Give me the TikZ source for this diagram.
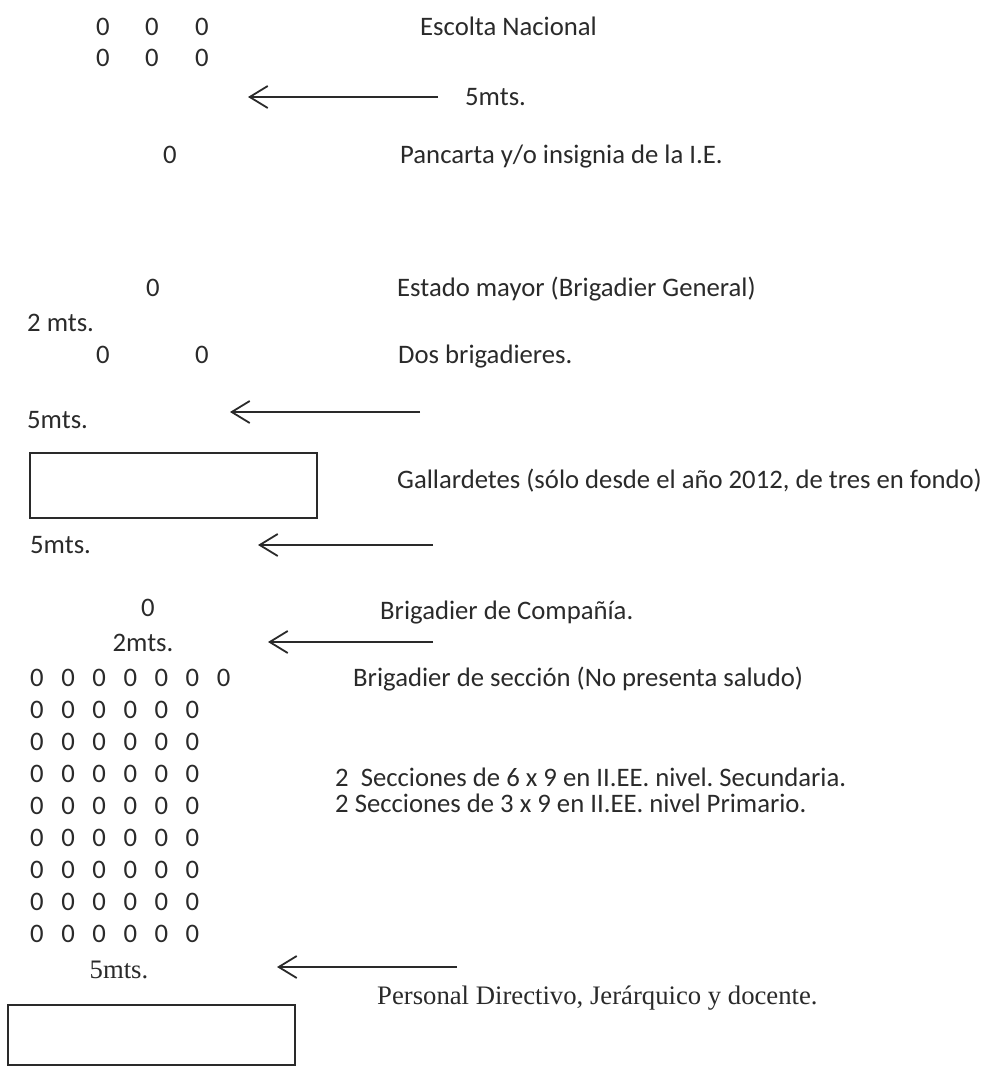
\documentclass[tikz,border=0pt]{standalone}
\usepackage{fontspec}
\setmainfont{Carlito}
\newfontfamily\tnr{Liberation Serif}
\usetikzlibrary{arrows.meta}
\definecolor{ink}{HTML}{2A2A2A}
\frenchspacing
\tikzset{
  lbl/.style={anchor=base west, inner sep=0pt, text=ink, font=\fontsize{26.7}{31}\selectfont},
  zero/.style={anchor=base, inner sep=0pt, text=ink, font=\fontsize{26.7}{31}\selectfont},
  tlbl/.style={anchor=base west, inner sep=0pt, text=ink, font=\tnr\fontsize{26.7}{31}\selectfont},
  arr/.style={draw=ink, line width=1.8pt, -{Straight Barb[length=18pt, width=22pt, line width=1.8pt]}},
  boxed/.style={draw=ink, line width=2pt, inner sep=0pt}
}
\begin{document}
\begin{tikzpicture}[x=1pt, y=-1pt]
\useasboundingbox (0,0) rectangle (984,1068);
% Escolta
\foreach \r/\yy in {1/27, 2/58} {
  \foreach \c/\xx in {1/103, 2/152, 3/202} {
    \node[zero] (esc\r\c) at (\xx,\yy+8) {0};
  }
}
\node[lbl] (tesc) at (420,35) {Escolta Nacional};
\coordinate (a1s) at (438,97); \coordinate (a1e) at (248,97);
\draw[arr] (a1s) -- (a1e);
\node[lbl] (t5a) at (465,105) {5mts.};
\node[zero] (pan) at (170,163) {0};
\node[lbl] (tpan) at (400,163) {Pancarta y/o insignia de la I.E.};
\node[zero] (est) at (153,296) {0};
\node[lbl] (test) at (397,296) {Estado mayor (Brigadier General)};
\node[lbl] (t2m) at (27,331) {2 mts.};
\node[zero] (dos1) at (103,363) {0};
\node[zero] (dos2) at (202,363) {0};
\node[lbl] (tdos) at (398,363) {Dos brigadieres.};
\node[lbl] (t5b) at (27,428) {5mts.};
\coordinate (a2s) at (420,412); \coordinate (a2e) at (230,412);
\draw[arr] (a2s) -- (a2e);
\node[boxed, minimum width=287pt, minimum height=65pt] (gal) at (173.5,485.5) {};
\node[lbl] (tgal) at (397,488) {Gallardetes (sólo desde el año 2012, de tres en fondo)};
\node[lbl] (t5c) at (30,553) {5mts.};
\coordinate (a3s) at (433,545); \coordinate (a3e) at (258,545);
\draw[arr] (a3s) -- (a3e);
\node[zero] (comp) at (148,616) {0};
\node[lbl] (tcomp) at (380,619) {Brigadier de Compañía.};
\node[zero] (t2mb) at (143,651) {2mts.};
\coordinate (a4s) at (433,642); \coordinate (a4e) at (268,642);
\draw[arr] (a4s) -- (a4e);
% section grid
\foreach \c in {0,...,6} {
  \node[zero] (g0\c) at (37+31.1*\c,686) {0};
}
\foreach \r in {1,...,8} {
  \foreach \c in {0,...,5} {
    \node[zero] (g\r\c) at (37+31.1*\c,686+32.1*\r) {0};
  }
}
\node[lbl] (tsec) at (353,686) {Brigadier de sección (No presenta saludo)};
\node[lbl] (tsa) at (335,786) {2\ \ Secciones de 6 x 9 en II.EE. nivel. Secundaria.};
\node[lbl] (tsb) at (335,812) {2 Secciones de 3 x 9 en II.EE. nivel Primario.};
\node[anchor=base, inner sep=0pt, text=ink, font=\tnr\fontsize{26.7}{31}\selectfont] (t5d) at (119,978) {5mts.};
\coordinate (a5s) at (457,967); \coordinate (a5e) at (277,967);
\draw[arr] (a5s) -- (a5e);
\node[tlbl] (tper) at (377,1004) {Personal Directivo, Jerárquico y docente.};
\node[boxed, minimum width=287pt, minimum height=60pt] (per) at (151.5,1035) {};
\end{tikzpicture}
\end{document}
